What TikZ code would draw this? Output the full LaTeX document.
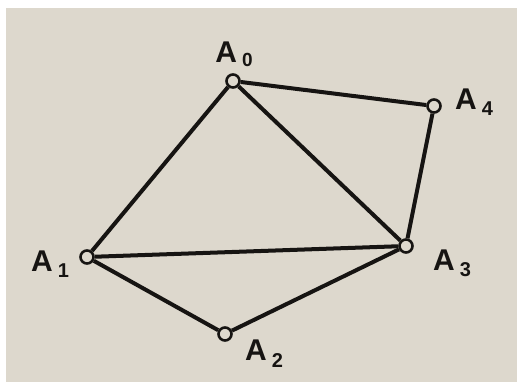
\documentclass[tikz,border=0pt]{standalone}
\usepackage{fontspec}
\setmainfont{Liberation Sans}
\definecolor{paper}{RGB}{221,216,205}
\definecolor{ink}{RGB}{22,20,18}
\begin{document}
\begin{tikzpicture}[x=1pt,y=-1pt,
  vtx/.style={circle,draw=ink,fill=paper,line width=2.6pt,minimum size=13pt,inner sep=0pt},
  edge/.style={draw=ink,line width=4pt},
  lbl/.style={text=ink,font=\bfseries\fontsize{30}{30}\selectfont,inner sep=0pt}]
\fill[white] (0,0) rectangle (517,382);
\useasboundingbox (0,0) rectangle (517,382);
\fill[paper] (6,8) rectangle (517,382);
\node[vtx] (A0) at (233,81) {};
\node[vtx] (A4) at (434,106) {};
\node[vtx] (A3) at (406,246) {};
\node[vtx] (A1) at (87,257) {};
\node[vtx] (A2) at (225,334) {};
\draw[edge] (A0) -- (A4);
\draw[edge] (A0) -- (A1);
\draw[edge] (A0) -- (A3);
\draw[edge] (A4) -- (A3);
\draw[edge] (A1) -- (A3);
\draw[edge] (A1) -- (A2);
\draw[edge] (A2) -- (A3);
\node[lbl] (L0) at (234,54) {A\,\raisebox{-4pt}{\fontsize{19}{19}\selectfont 0}};
\node[lbl] (L4) at (474,102) {A\,\raisebox{-6pt}{\fontsize{20}{20}\selectfont 4}};
\node[lbl] (L3) at (452,263) {A\,\raisebox{-6pt}{\fontsize{20}{20}\selectfont 3}};
\node[lbl] (L1) at (50,264) {A\,\raisebox{-6pt}{\fontsize{20}{20}\selectfont 1}};
\node[lbl] (L2) at (264,354) {A\,\raisebox{-7pt}{\fontsize{20}{20}\selectfont 2}};
\end{tikzpicture}
\end{document}
